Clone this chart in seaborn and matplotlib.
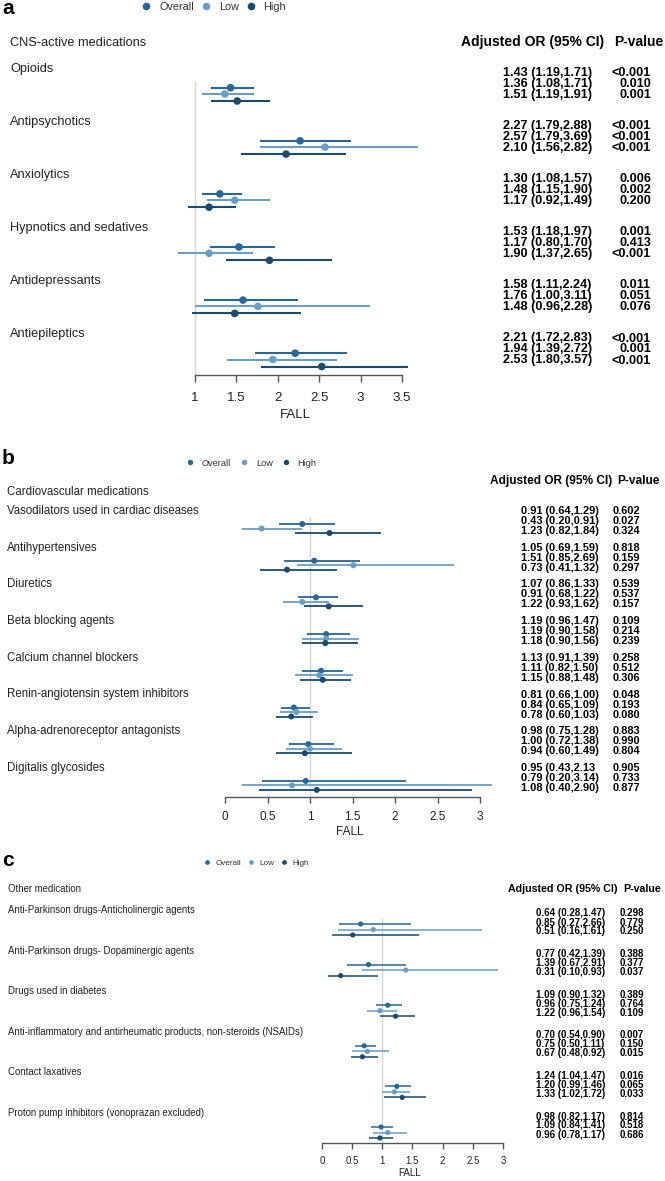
import numpy as np
import pandas as pd
import matplotlib
matplotlib.use("Agg")
import matplotlib.pyplot as plt
import seaborn as sns

W, H = 665, 1181
sns.set_theme(style="white")
plt.rcParams["font.family"] = ["Liberation Sans", "DejaVu Sans"]

levels = ["Overall", "Low", "High"]
palette = {"Overall": "#2a6796", "Low": "#6a9ec5", "High": "#1b4a6c"}

# ---------------- Panel a data ----------------
a_groups = ["Opioids", "Antipsychotics", "Anxiolytics", "Hypnotics and sedatives",
            "Antidepressants", "Antiepileptics"]
a_or = [[1.43, 1.36, 1.51], [2.27, 2.57, 2.10], [1.30, 1.48, 1.17],
        [1.53, 1.17, 1.90], [1.58, 1.76, 1.48], [2.21, 1.94, 2.53]]
a_lo = [[1.19, 1.08, 1.19], [1.79, 1.79, 1.56], [1.08, 1.15, 0.92],
        [1.18, 0.80, 1.37], [1.11, 1.00, 0.96], [1.72, 1.39, 1.80]]
a_hi = [[1.71, 1.71, 1.91], [2.88, 3.69, 2.82], [1.57, 1.90, 1.49],
        [1.97, 1.70, 2.65], [2.24, 3.11, 2.28], [2.83, 2.72, 3.57]]
a_p = [["<0.001", "0.010", "0.001"], ["<0.001", "<0.001", "<0.001"],
       ["0.006", "0.002", "0.200"], ["0.001", "0.413", "<0.001"],
       ["0.011", "0.051", "0.076"], ["<0.001", "0.001", "<0.001"]]
a_ticks = [1, 1.5, 2, 2.5, 3, 3.5]

# ---------------- Panel b data ----------------
b_groups = ["Vasodilators used in cardiac diseases", "Antihypertensives", "Diuretics",
            "Beta blocking agents", "Calcium channel blockers",
            "Renin-angiotensin system inhibitors", "Alpha-adrenoreceptor antagonists",
            "Digitalis glycosides"]
b_or = [[0.91, 0.43, 1.23], [1.05, 1.51, 0.73], [1.07, 0.91, 1.22], [1.19, 1.19, 1.18],
        [1.13, 1.11, 1.15], [0.81, 0.84, 0.78], [0.98, 1.00, 0.94], [0.95, 0.79, 1.08]]
b_lo = [[0.64, 0.20, 0.82], [0.69, 0.85, 0.41], [0.86, 0.68, 0.93], [0.96, 0.90, 0.90],
        [0.91, 0.82, 0.88], [0.66, 0.65, 0.60], [0.75, 0.72, 0.60], [0.43, 0.20, 0.40]]
b_hi = [[1.29, 0.91, 1.84], [1.59, 2.69, 1.32], [1.33, 1.22, 1.62], [1.47, 1.58, 1.56],
        [1.39, 1.50, 1.48], [1.00, 1.09, 1.03], [1.28, 1.38, 1.49], [2.13, 3.14, 2.90]]
b_p = [["0.602", "0.027", "0.324"], ["0.818", "0.159", "0.297"], ["0.539", "0.537", "0.157"],
       ["0.109", "0.214", "0.239"], ["0.258", "0.512", "0.306"], ["0.048", "0.193", "0.080"],
       ["0.883", "0.990", "0.804"], ["0.905", "0.733", "0.877"]]
b_ticks = [0, 0.5, 1, 1.5, 2, 2.5, 3]

# ---------------- Panel c data ----------------
c_groups = ["Anti-Parkinson drugs-Anticholinergic agents",
            "Anti-Parkinson drugs- Dopaminergic agents", "Drugs used in diabetes",
            "Anti-inflammatory and antirheumatic products, non-steroids (NSAIDs)",
            "Contact laxatives", "Proton pump inhibitors (vonoprazan excluded)"]
c_or = [[0.64, 0.85, 0.51], [0.77, 1.39, 0.31], [1.09, 0.96, 1.22],
        [0.70, 0.75, 0.67], [1.24, 1.20, 1.33], [0.98, 1.09, 0.96]]
c_lo = [[0.28, 0.27, 0.16], [0.42, 0.67, 0.10], [0.90, 0.75, 0.96],
        [0.54, 0.50, 0.48], [1.04, 0.99, 1.02], [0.82, 0.84, 0.78]]
c_hi = [[1.47, 2.66, 1.61], [1.39, 2.91, 0.93], [1.32, 1.24, 1.54],
        [0.90, 1.11, 0.92], [1.47, 1.46, 1.72], [1.17, 1.41, 1.17]]
c_p = [["0.298", "0.779", "0.250"], ["0.388", "0.377", "0.037"], ["0.389", "0.764", "0.109"],
       ["0.007", "0.150", "0.015"], ["0.016", "0.065", "0.033"], ["0.814", "0.518", "0.686"]]
c_ticks = [0, 0.5, 1, 1.5, 2, 2.5, 3]

fig = plt.figure(figsize=(W / 100, H / 100), dpi=100)


def ft(x, y, s, **kw):
    kw.setdefault("va", "center")
    return fig.text(x / W, 1 - y / H, s, **kw)


def panel(letter, title, groups, ors, los, his, ps, ticks, cfg, fixes=None):
    fixes = fixes or {}
    rows = []
    for gi, g in enumerate(groups):
        for li, lev in enumerate(levels):
            rows.append(dict(group=g, level=lev, OR=ors[gi][li], lo=los[gi][li],
                             hi=his[gi][li],
                             y=cfg["y0"] + gi * cfg["sp"] + cfg["dots"][li]))
    df = pd.DataFrame(rows)

    l, r, t, b = cfg["box"]
    x0px, x0v, ppu = cfg["xref"]
    ax = fig.add_axes([l / W, 1 - b / H, (r - l) / W, (b - t) / H])
    ax.set_facecolor("none")
    ax.vlines(1, cfg["reftop"], b, color="#d6d6d6", lw=1.0, zorder=1)
    ax.hlines(df["y"], df["lo"], df["hi"], colors=df["level"].map(palette),
              lw=cfg["lw"], zorder=2)
    sns.scatterplot(data=df, x="OR", y="y", hue="level", hue_order=levels,
                    palette=palette, s=cfg["s"], edgecolor="none", ax=ax,
                    zorder=3, legend=True)
    ax.set_xlim((l - x0px) / ppu + x0v, (r - x0px) / ppu + x0v)
    ax.set_ylim(b, t)
    for sp in ["top", "right", "left"]:
        ax.spines[sp].set_visible(False)
    ax.spines["bottom"].set_bounds(ticks[0], ticks[-1])
    ax.spines["bottom"].set_color("#555555")
    ax.spines["bottom"].set_linewidth(1.0)
    ax.set_xticks(ticks)
    ax.set_xticklabels([f"{v:g}" for v in ticks])
    ax.set_yticks([])
    ax.tick_params(axis="x", bottom=True, length=cfg["tl"], width=1.0,
                   color="#555555", pad=cfg["pad"], labelsize=cfg["tfs"],
                   labelcolor="#222222")
    ax.set_xlabel("FALL", fontsize=cfg["tfs"], color="#222222", labelpad=cfg["lp"])
    ax.set_ylabel("")

    handles, labels = ax.get_legend_handles_labels()
    ax.get_legend().remove()
    lx, ly = cfg["leg"]
    hp, cs = cfg["legsp"]
    fig.legend(handles, labels, loc="center left",
               bbox_to_anchor=(lx / W, 1 - ly / H), ncol=3, frameon=False,
               fontsize=cfg["lfs"], handletextpad=hp, columnspacing=cs,
               handlelength=1.0, borderaxespad=0, borderpad=0,
               markerscale=cfg["ms"], labelcolor="#333333")

    ft(2, cfg["letter_y"], letter, fontsize=15, fontweight="bold", color="black")
    ft(cfg["lx"], cfg["title_y"], title, fontsize=cfg["gfs"], color="#222222")
    hx1, hx2 = cfg["hx"]
    ft(hx1, cfg["head_y"], "Adjusted OR (95% CI)", fontsize=cfg["hfs"],
       fontweight="bold", color="black")
    ft(hx2, cfg["head_y"], "P-value", fontsize=cfg["hfs"], fontweight="bold",
       color="black")
    for gi, g in enumerate(groups):
        gy = cfg["y0"] + gi * cfg["sp"]
        ft(cfg["lx"], gy, g, fontsize=cfg["gfs"], color="#222222")
        for li in range(3):
            ry = gy + cfg["roff"] + li * cfg["rsp"]
            txt = fixes.get((gi, li),
                            f"{ors[gi][li]:.2f} ({los[gi][li]:.2f},{his[gi][li]:.2f})")
            ft(cfg["tx"], ry, txt, fontsize=cfg["rfs"], fontweight="bold",
               color="black")
            ft(cfg["px"], ry, ps[gi][li], fontsize=cfg["rfs"], fontweight="bold",
               color="black", ha=cfg["pha"])


cfg_a = dict(y0=69, sp=53.1, dots=(18.7, 25, 32), box=(150, 440, 60, 375),
             xref=(195, 1.0, 82.8), reftop=81, lw=1.5, s=30, tl=5, pad=7, tfs=9.5,
             lp=4, leg=(140.6, 7), legsp=(0.7, 0.6), lfs=7.8, ms=1.0, letter_y=9,
             lx=10, title_y=43, gfs=9.2, hx=(461, 614), head_y=42, hfs=10, roff=4,
             rsp=11, tx=503, px=651, pha="right", rfs=9.1)
cfg_b = dict(y0=511, sp=36.7, dots=(13, 17.5, 22), box=(200, 500, 500, 797),
             xref=(225, 0.0, 85.0), reftop=517, lw=1.3, s=19, tl=4.5, pad=5.5, tfs=8.5,
             lp=2.5, leg=(185.4, 463), legsp=(0.8, 0.9), lfs=6.6, ms=0.9,
             letter_y=458, lx=7, title_y=492, gfs=8.3, hx=(490, 617), head_y=481,
             hfs=8.6, roff=0, rsp=10, tx=521, px=613, pha="left", rfs=7.9)
cfg_c = dict(y0=910, sp=40.6, dots=(14, 19.5, 25), box=(300, 520, 895, 1143),
             xref=(322, 0.0, 60.33), reftop=918, lw=1.1, s=14, tl=4, pad=5, tfs=7,
             lp=2, leg=(203, 863), legsp=(0.6, 0.6), lfs=5.9, ms=0.9, letter_y=860,
             lx=8, title_y=889, gfs=6.9, hx=(508, 623), head_y=889, hfs=7.7,
             roff=3.5, rsp=9, tx=536, px=620, pha="left", rfs=7.0)

panel("a", "CNS-active medications", a_groups, a_or, a_lo, a_hi, a_p, a_ticks, cfg_a)
panel("b", "Cardiovascular medications", b_groups, b_or, b_lo, b_hi, b_p, b_ticks,
      cfg_b, fixes={(7, 0): "0.95 (0.43,2.13"})
panel("c", "Other medication", c_groups, c_or, c_lo, c_hi, c_p, c_ticks, cfg_c)

fig.savefig("out.png", dpi=100)
